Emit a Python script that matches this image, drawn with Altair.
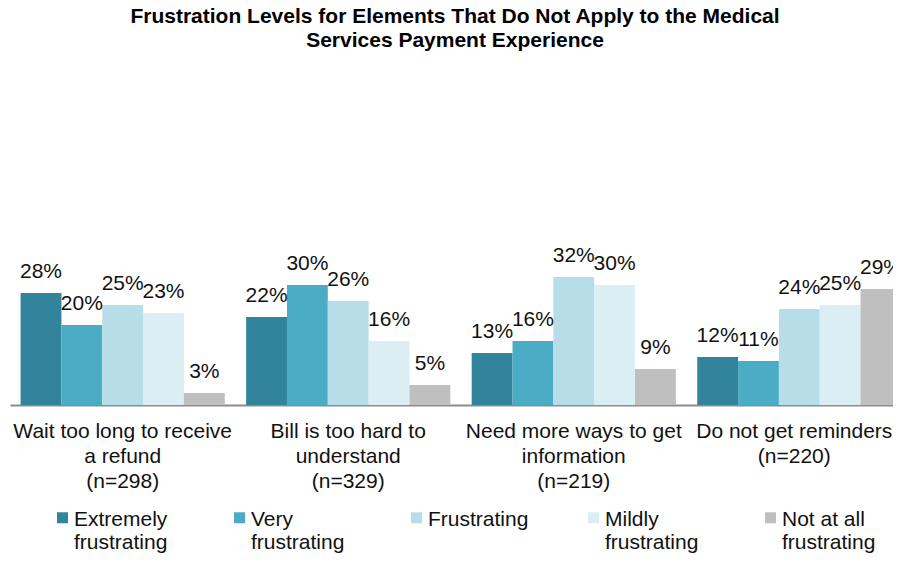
import altair as alt
import pandas as pd

questions = [
    "Wait too long to receive|a refund|(n=298)",
    "Bill is too hard to|understand|(n=329)",
    "Need more ways to get|information|(n=219)",
    "Do not get reminders|(n=220)",
]
levels = [
    "Extremely|frustrating",
    "Very|frustrating",
    "Frustrating",
    "Mildly|frustrating",
    "Not at all|frustrating",
]
colors = ["#31849B", "#4BACC6", "#B7DEE8", "#DAEEF3", "#BFBFBF"]

extremely = [28, 22, 13, 12]
very = [20, 30, 16, 11]
frustrating = [25, 26, 32, 24]
mildly = [23, 16, 30, 25]
not_at_all = [3, 5, 9, 29]

series = [extremely, very, frustrating, mildly, not_at_all]
rows = []
for lvl, vals in zip(levels, series):
    for q, v in zip(questions, vals):
        rows.append({"question": q, "level": lvl, "value": v / 100})
df = pd.DataFrame(rows)

FONT = "Liberation Sans"

base = alt.Chart(df).encode(
    x=alt.X(
        "question:N",
        sort=questions,
        scale=alt.Scale(paddingInner=0.0947, paddingOuter=0.047, range=[0, 902]),
        axis=alt.Axis(
            title=None,
            labelExpr="split(datum.label, '|')",
            labelAngle=0,
            ticks=False,
            domainColor="#8C8C8C",
            domainWidth=2,
            labelFont=FONT,
            labelFontSize=21,
            labelLineHeight=25,
            labelPadding=15,
            labelOffset={
                "condition": {"test": "indexof(datum.value, 'reminders') >= 0", "value": -5},
                "value": 0,
            },
            labelColor="#111111",
            labelLimit=400,
        ),
    ),
    xOffset=alt.XOffset("level:N", sort=levels, scale=alt.Scale(paddingInner=0, paddingOuter=0)),
    y=alt.Y("value:Q", scale=alt.Scale(domain=[0, 0.35], nice=False, zero=True), axis=None),
)

bars = base.mark_bar(stroke=None).encode(
    color=alt.Color(
        "level:N",
        sort=levels,
        scale=alt.Scale(domain=levels, range=colors),
        legend=alt.Legend(
            title=None,
            orient="none",
            legendX=42,
            legendY=233,
            direction="horizontal",
            columns=5,
            columnPadding=54,
            gridAlign="all",
            symbolType="M-1,0.64H1V2.64H-1Z",
            symbolSize=121,
            symbolStrokeWidth=0,
            labelFont=FONT,
            labelFontSize=21,
            labelColor="#111111",
            labelExpr="indexof(datum.label, '|') < 0 ? [datum.label, ' '] : split(datum.label, '|')",
            labelBaseline="top",
            labelOffset=1,
            labelLimit=300,
        ),
    )
)

labels = base.mark_text(
    font=FONT, fontSize=21, color="#111111", baseline="alphabetic", dy=-15
).encode(text=alt.Text("value:Q", format=".0%"))

chart = (
    alt.layer(bars, labels)
    .properties(
        width=883,
        height=140,
        padding={"left": 2, "top": 257, "right": 0, "bottom": 149},
        autosize=alt.AutoSizeParams(type="none"),
        title=alt.TitleParams(
            text=[
                "Frustration Levels for Elements That Do Not Apply to the Medical",
                "Services Payment Experience",
            ],
            font=FONT,
            fontSize=21,
            fontWeight="bold",
            color="#000000",
            anchor="middle",
            dx=3.5,
            offset=194,
            lineHeight=24,
        ),
    )
    .configure_view(stroke=None)
)

chart.save("out.html", embed_options={"renderer": "svg", "actions": False})
